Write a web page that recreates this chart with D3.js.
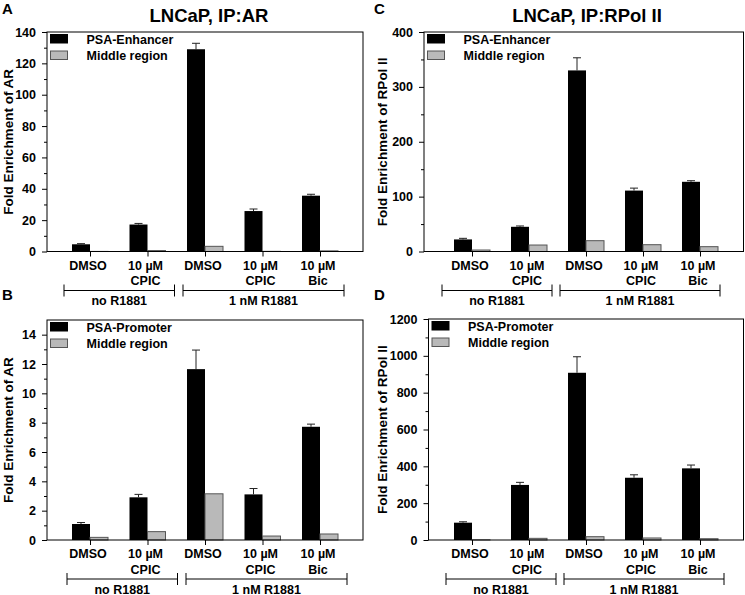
<!DOCTYPE html>
<html>
<head>
<meta charset="utf-8">
<script src="https://cdn.jsdelivr.net/npm/d3@7"></script>
<style>
  body { margin: 0; background: #fff; }
  text { font-family: "Liberation Sans", Arial, sans-serif; font-weight: bold; }
</style>
</head>
<body>
<div id="chart"></div>
<script>
// category labels (one line per entry) and treatment brackets
const categories = [["DMSO"], ["10 \u00b5M", "CPIC"], ["DMSO"], ["10 \u00b5M", "CPIC"], ["10 \u00b5M", "Bic"]];
const bracketLabels = ["no R1881", "1 nM R1881"];

// A: LNCaP IP:AR, PSA-Enhancer
const arEnhancer = [4.6, 17.2, 129.0, 25.8, 35.6];
const arEnhancerErr = [0.4, 0.7, 3.8, 1.3, 0.9];
const arEnhMiddle = [0.05, 0.6, 3.3, 0.1, 0.4];
const arEnhTicks = [0, 20, 40, 60, 80, 100, 120, 140];

// B: LNCaP IP:AR, PSA-Promoter
const arPromoter = [1.09, 2.91, 11.65, 3.11, 7.72];
const arPromoterErr = [0.1, 0.2, 1.3, 0.4, 0.18];
const arPromMiddle = [0.18, 0.57, 3.15, 0.27, 0.41];
const arPromTicks = [0, 2, 4, 6, 8, 10, 12, 14];

// C: LNCaP IP:RPol II, PSA-Enhancer
const polEnhancer = [22, 45, 330, 111, 127];
const polEnhancerErr = [2, 1.5, 23, 4.5, 2];
const polEnhMiddle = [2.7, 11.8, 19.7, 12.4, 8.8];
const polEnhTicks = [0, 100, 200, 300, 400];

// D: LNCaP IP:RPol II, PSA-Promoter
const polPromoter = [94, 299, 908, 338, 389];
const polPromoterErr = [5, 14, 87, 16, 18];
const polPromMiddle = [1, 9, 18, 11, 7];
const polPromTicks = [0, 200, 400, 600, 800, 1000, 1200];

const width = 745, height = 595;

const svg = d3.select("#chart").append("svg")
    .attr("width", width)
    .attr("height", height);

const panels = [
  { letter: "A", lx: 2, ly: 14, title: "LNCaP, IP:AR", tx: 209, ty: 22,
    left: 47, right: 363, top: 32, bottom: 251.5, xr: [90, 320], shift: 0,
    ymax: 140, ticks: arEnhTicks, minor: 10, ylabel: "Fold Enrichment of AR", yl: 13,
    black: arEnhancer, err: arEnhancerErr, gray: arEnhMiddle, legend: "PSA-Enhancer" },
  { letter: "B", lx: 2, ly: 300, title: null,
    left: 47, right: 363, top: 320, bottom: 540, xr: [90, 320], shift: 3,
    ymax: 15, ticks: arPromTicks, minor: 1, ylabel: "Fold Enrichment of AR", yl: 13,
    black: arPromoter, err: arPromoterErr, gray: arPromMiddle, legend: "PSA-Promoter" },
  { letter: "C", lx: 374, ly: 14, title: "LNCaP, IP:RPol II", tx: 587, ty: 22,
    left: 424, right: 743.5, top: 32, bottom: 251.5, xr: [472, 700], shift: -4,
    ymax: 400, ticks: polEnhTicks, minor: 50, ylabel: "Fold Enrichment of RPol II", yl: 387,
    black: polEnhancer, err: polEnhancerErr, gray: polEnhMiddle, legend: "PSA-Enhancer" },
  { letter: "D", lx: 374, ly: 300, title: null,
    left: 428.5, right: 743.5, top: 319, bottom: 540, xr: [472, 700], shift: 0,
    ymax: 1200, ticks: polPromTicks, minor: 100, ylabel: "Fold Enrichment of RPol II", yl: 387,
    black: polPromoter, err: polPromoterErr, gray: polPromMiddle, legend: "PSA-Promoter" }
];

const barW = 18;

panels.forEach(p => {
  const g = svg.append("g");

  const x = d3.scalePoint().domain(d3.range(categories.length)).range(p.xr);
  const y = d3.scaleLinear().domain([0, p.ymax]).range([p.bottom, p.top]);

  // panel letter and title
  g.append("text").attr("x", p.lx).attr("y", p.ly)
      .style("font-size", "15px").text(p.letter);
  if (p.title) {
    g.append("text").attr("x", p.tx).attr("y", p.ty)
        .attr("text-anchor", "middle").style("font-size", "18.5px").text(p.title);
  }

  // bars
  g.selectAll(".black").data(p.black).enter().append("rect")
      .attr("x", (d, i) => x(i) - barW)
      .attr("y", d => y(d))
      .attr("width", barW)
      .attr("height", d => p.bottom - y(d))
      .attr("fill", "#000");

  g.selectAll(".gray").data(p.gray).enter().append("rect")
      .attr("x", (d, i) => x(i))
      .attr("y", d => y(d))
      .attr("width", barW)
      .attr("height", d => p.bottom - y(d))
      .attr("fill", "#b9b9b9")
      .attr("stroke", "#555")
      .attr("stroke-width", 1);

  // error bars (upper only)
  p.black.forEach((v, i) => {
    const cx = x(i) - barW / 2;
    g.append("line").attr("x1", cx).attr("x2", cx)
        .attr("y1", y(v)).attr("y2", y(v + p.err[i]))
        .attr("stroke", "#222").attr("stroke-width", 1);
    g.append("line").attr("x1", cx - 4).attr("x2", cx + 4)
        .attr("y1", y(v + p.err[i])).attr("y2", y(v + p.err[i]))
        .attr("stroke", "#222").attr("stroke-width", 1);
  });

  // frame
  g.append("rect")
      .attr("x", p.left).attr("y", p.top)
      .attr("width", p.right - p.left).attr("height", p.bottom - p.top)
      .attr("fill", "none").attr("stroke", "#000").attr("stroke-width", 1);

  // y axis: major + minor ticks
  const yAxis = g.append("g")
      .attr("transform", "translate(" + p.left + ",0)")
      .call(d3.axisLeft(y).tickValues(p.ticks).tickSize(5).tickPadding(6)
        .tickSizeOuter(0).tickFormat(d3.format("d")));
  yAxis.select(".domain").remove();
  yAxis.selectAll("text").style("font-size", "12.5px").attr("fill", "#000");

  const minorTicks = d3.range(p.minor, p.ymax, p.minor * 2);
  const yMinor = g.append("g")
      .attr("transform", "translate(" + p.left + ",0)")
      .call(d3.axisLeft(y).tickValues(minorTicks).tickSize(3).tickFormat(""));
  yMinor.select(".domain").remove();

  // x axis ticks at group centres
  const xAxis = g.append("g")
      .attr("transform", "translate(0," + p.bottom + ")")
      .call(d3.axisBottom(x).tickSize(5).tickFormat(""));
  xAxis.select(".domain").remove();

  // category labels
  categories.forEach((lines, i) => {
    lines.forEach((t, j) => {
      g.append("text")
          .attr("x", x(i) - 2)
          .attr("y", p.bottom + 18 + j * 15.5)
          .attr("text-anchor", "middle")
          .style("font-size", "12.5px")
          .text(t);
    });
  });

  // treatment brackets
  const by = p.bottom + 39;
  const spans = [[x(0) - 26 + p.shift, x(1) + 27 + p.shift], [x(2) - 22 + p.shift, x(4) + 24 + p.shift]];
  spans.forEach((s, k) => {
    g.append("line").attr("x1", s[0]).attr("x2", s[1]).attr("y1", by).attr("y2", by)
        .attr("stroke", "#000");
    s.forEach(sx => {
      g.append("line").attr("x1", sx).attr("x2", sx).attr("y1", by - 6).attr("y2", by + 6)
          .attr("stroke", "#000");
    });
    g.append("text")
        .attr("x", (s[0] + s[1]) / 2)
        .attr("y", p.bottom + 53.5)
        .attr("text-anchor", "middle")
        .style("font-size", "12.5px")
        .text(bracketLabels[k]);
  });

  // y label
  g.append("text")
      .attr("transform", "translate(" + p.yl + "," + ((p.top + p.bottom) / 2) + ") rotate(-90)")
      .attr("text-anchor", "middle")
      .style("font-size", "13.5px")
      .text(p.ylabel);

  // legend
  const lx = p.left + 3.5;
  const items = [{ name: p.legend, fill: "#000", stroke: "#000" },
                 { name: "Middle region", fill: "#b9b9b9", stroke: "#555" }];
  items.forEach((it, k) => {
    g.append("rect")
        .attr("x", lx).attr("y", p.top + 2.5 + k * 16.5)
        .attr("width", 17).attr("height", 8.5)
        .attr("fill", it.fill).attr("stroke", it.stroke);
    g.append("text")
        .attr("x", lx + 36).attr("y", p.top + 11.5 + k * 16.5)
        .style("font-size", "12.5px")
        .text(it.name);
  });
});
</script>
</body>
</html>
